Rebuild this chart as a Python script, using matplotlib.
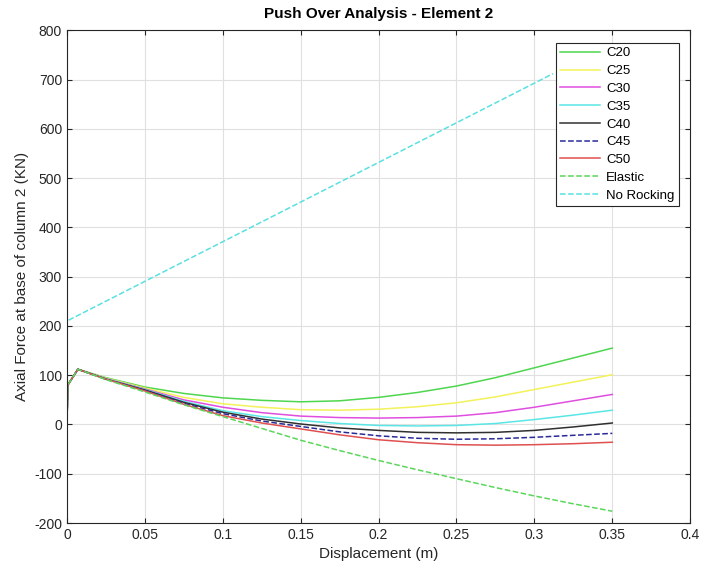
import matplotlib
matplotlib.use("Agg")
import matplotlib.pyplot as plt

plt.rcParams['font.family'] = ['Liberation Sans', 'DejaVu Sans']
plt.rcParams['axes.unicode_minus'] = False

# displacement samples (m)
disp = [0, 0.0005, 0.007, 0.025, 0.05, 0.075, 0.1, 0.125, 0.15, 0.175,
        0.2, 0.225, 0.25, 0.275, 0.3, 0.325, 0.35]

c20 = [0, 80, 112, 95, 76, 63, 54, 49, 46, 48, 55, 65, 78, 95, 115, 135, 155]
c25 = [0, 80, 112, 94, 74, 55, 42, 35, 30, 29, 31, 36, 44, 56, 71, 86, 101]
c30 = [0, 80, 112, 93, 72, 50, 35, 24, 17, 14, 13, 14, 17, 24, 35, 48, 61]
c35 = [0, 80, 112, 93, 71, 47, 28, 16, 8, 2, -2, -3, -2, 2, 10, 19, 29]
c40 = [0, 80, 112, 92, 70, 45, 25, 11, 1, -7, -12, -16, -17, -16, -12, -5, 3]
c45 = [0, 80, 112, 92, 69, 43, 22, 7, -4, -15, -23, -28, -30, -29, -26, -22, -18]
c50 = [0, 80, 112, 92, 68, 41, 18, 3, -9, -21, -31, -37, -41, -42, -41, -39, -36]
elastic = [0, 80, 112, 91, 66, 40, 16, -8, -32, -53, -73, -92, -110, -128, -145, -161, -176]

# no rocking: vertical jump at x=0 then straight line
norock_x = [0, 0, 0.312]
norock_y = [0, 210, 712]

fig = plt.figure(figsize=(7.05, 5.71), dpi=100)
ax = fig.add_axes([0.095, 0.084, 0.884, 0.863])

ax.plot(disp, c20, '-', color='#4fd64f', lw=1.1, label='C20')
ax.plot(disp, c25, '-', color='#f2f25a', lw=1.1, label='C25')
ax.plot(disp, c30, '-', color='#e04ee0', lw=1.1, label='C30')
ax.plot(disp, c35, '-', color='#5ae6e6', lw=1.1, label='C35')
ax.plot(disp, c40, '-', color='#303030', lw=1.1, label='C40')
ax.plot(disp, c45, '--', color='#2a2a9a', lw=1.1, label='C45')
ax.plot(disp, c50, '-', color='#e05050', lw=1.1, label='C50')
ax.plot(disp, elastic, '--', color='#5ad65a', lw=1.1, label='Elastic')
ax.plot(norock_x, norock_y, '--', color='#5ae0e0', lw=1.1, label='No Rocking')

ax.set_xlim(0, 0.4)
ax.set_ylim(-200, 800)
ax.set_xticks([0, 0.05, 0.1, 0.15, 0.2, 0.25, 0.3, 0.35, 0.4])
ax.set_xticklabels(['0', '0.05', '0.1', '0.15', '0.2', '0.25', '0.3', '0.35', '0.4'])
ax.set_yticks(range(-200, 801, 100))
ax.grid(True, color='#e0e0e0', lw=0.8)
ax.set_axisbelow(True)
ax.tick_params(direction='in', top=True, right=True, labelsize=10, colors='#262626')
for s in ax.spines.values():
    s.set_color('#262626')
    s.set_linewidth(0.8)

ax.set_xlabel('Displacement (m)', fontsize=11, color='#262626')
ax.set_ylabel('Axial Force at base of column 2 (KN)', fontsize=11, color='#262626')
ax.set_title('Push Over Analysis - Element 2', fontsize=11, fontweight='bold', pad=9)

leg = ax.legend(loc='upper right', fontsize=9.5, handlelength=3.0, handletextpad=0.45,
                fancybox=False, edgecolor='#262626', framealpha=1,
                borderpad=0.35, borderaxespad=0, labelspacing=0.42,
                bbox_to_anchor=(0.982, 0.975))
leg.get_frame().set_linewidth(0.8)

fig.savefig('out.png', dpi=100)
